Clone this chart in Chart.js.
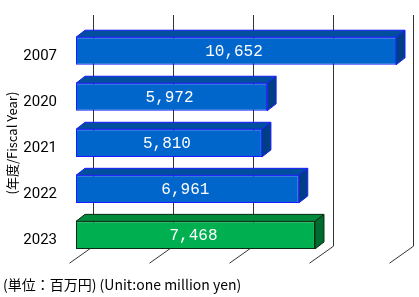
<!DOCTYPE html>
<html>
<head>
<meta charset="utf-8">
<script src="https://cdn.jsdelivr.net/npm/chart.js@4/dist/chart.umd.min.js"></script>
<style>
    html, body { margin: 0; padding: 0; background: #ffffff; }
    canvas { display: block; }
</style>
</head>
<body>
<canvas id="salesChart" width="419" height="297"></canvas>
<script>
const years = ["2007", "2020", "2021", "2022", "2023"];
const sales = [10652, 5972, 5810, 6961, 7468];
const axisTicks = [0, 2500, 5000, 7500, 10000];

const yAxisTitle = "(年度/Fiscal Year)";
const caption = "(単位：百万円) (Unit:one million yen)";

// colours: front, top, side, border
const blueFace = ["#0066cc", "#004f9f", "#003f86", "#1a1aff"];
const greenFace = ["#00b050", "#008a3c", "#006b2e", "#0a2a12"];

// depth of the bars and of the back wall
const barDepth = { x: 9, y: 7 };
const wallDepth = { x: 17, y: 17 };

function faceFor(i) {
    return i === years.length - 1 ? greenFace : blueFace;
}

const wallPlugin = {
    id: "wall",
    beforeDatasetsDraw(chart) {
        const ctx = chart.ctx;
        const area = chart.chartArea;
        const xs = chart.scales.x;
        const top = area.top - 13;
        const bottom = area.bottom - 12;

        ctx.save();
        ctx.strokeStyle = "#333333";
        ctx.lineWidth = 1;
        axisTicks.forEach((v) => {
            const xb = Math.round(xs.getPixelForValue(v) + wallDepth.x) + 0.5;
            ctx.beginPath();
            ctx.moveTo(xb, top);
            ctx.lineTo(xb, bottom);
            ctx.lineTo(xb - 24, bottom + 17);
            ctx.stroke();
        });
        ctx.restore();
    },
};

const boxPlugin = {
    id: "boxes",
    afterDatasetsDraw(chart) {
        const ctx = chart.ctx;
        const area = chart.chartArea;
        const meta = chart.getDatasetMeta(0);

        ctx.save();
        meta.data.forEach((bar, i) => {
            const p = bar.getProps(["x", "y", "base", "height"], true);
            const face = faceFor(i);
            const left = p.base;
            const right = Math.min(p.x, area.right);
            const top = p.y - p.height / 2;
            const bottom = p.y + p.height / 2;

            ctx.lineWidth = 1;
            ctx.strokeStyle = face[3];

            // top face
            ctx.beginPath();
            ctx.moveTo(left, top);
            ctx.lineTo(left + barDepth.x, top - barDepth.y);
            ctx.lineTo(right + barDepth.x, top - barDepth.y);
            ctx.lineTo(right, top);
            ctx.closePath();
            ctx.fillStyle = face[1];
            ctx.fill();
            ctx.stroke();

            // side face
            ctx.beginPath();
            ctx.moveTo(right, top);
            ctx.lineTo(right + barDepth.x, top - barDepth.y);
            ctx.lineTo(right + barDepth.x, bottom - barDepth.y);
            ctx.lineTo(right, bottom);
            ctx.closePath();
            ctx.fillStyle = face[2];
            ctx.fill();
            ctx.stroke();

            // value label
            ctx.fillStyle = "#ffffff";
            ctx.font = '16px "Liberation Mono", monospace';
            ctx.textAlign = "center";
            ctx.textBaseline = "middle";
            ctx.fillText(sales[i].toLocaleString("en-US"), (left + right) / 2 - 2, p.y + 1);
        });
        ctx.restore();
    },
};

function drawChart() {
    const ctx = document.getElementById("salesChart").getContext("2d");

    new Chart(ctx, {
        type: "bar",
        data: {
            labels: years,
            datasets: [{
                data: sales,
                backgroundColor: years.map((y, i) => faceFor(i)[0]),
                borderColor: years.map((y, i) => faceFor(i)[3]),
                borderWidth: 1,
                borderSkipped: false,
                barPercentage: 0.6,
                categoryPercentage: 1,
                clip: 0,
            }],
        },
        options: {
            indexAxis: "y",
            responsive: false,
            animation: false,
            layout: {
                padding: { left: 3, right: 23, top: 25, bottom: 0 },
            },
            plugins: {
                legend: { display: false },
                tooltip: { enabled: false },
                title: {
                    display: true,
                    text: caption,
                    position: "bottom",
                    align: "start",
                    color: "#000000",
                    font: { family: '"Noto Sans CJK JP", sans-serif', size: 14, weight: "normal", lineHeight: 1.2 },
                    padding: { top: 18, bottom: 4 },
                },
            },
            scales: {
                x: {
                    display: false,
                    min: axisTicks[0],
                    max: axisTicks[axisTicks.length - 1],
                },
                y: {
                    afterFit: (scale) => { scale.width = 73; },
                    grid: { display: false, drawTicks: false },
                    border: { display: false },
                    ticks: {
                        color: "#000000",
                        padding: 19,
                        labelOffset: 5,
                        font: { family: "Roboto, sans-serif", size: 15 },
                    },
                    title: {
                        display: true,
                        text: yAxisTitle,
                        color: "#000000",
                        font: { family: '"Noto Sans CJK JP", sans-serif', size: 13, lineHeight: 1.2 },
                        padding: { top: 1, bottom: 0 },
                    },
                },
            },
        },
        plugins: [wallPlugin, boxPlugin],
    });
}

drawChart();
</script>
</body>
</html>
